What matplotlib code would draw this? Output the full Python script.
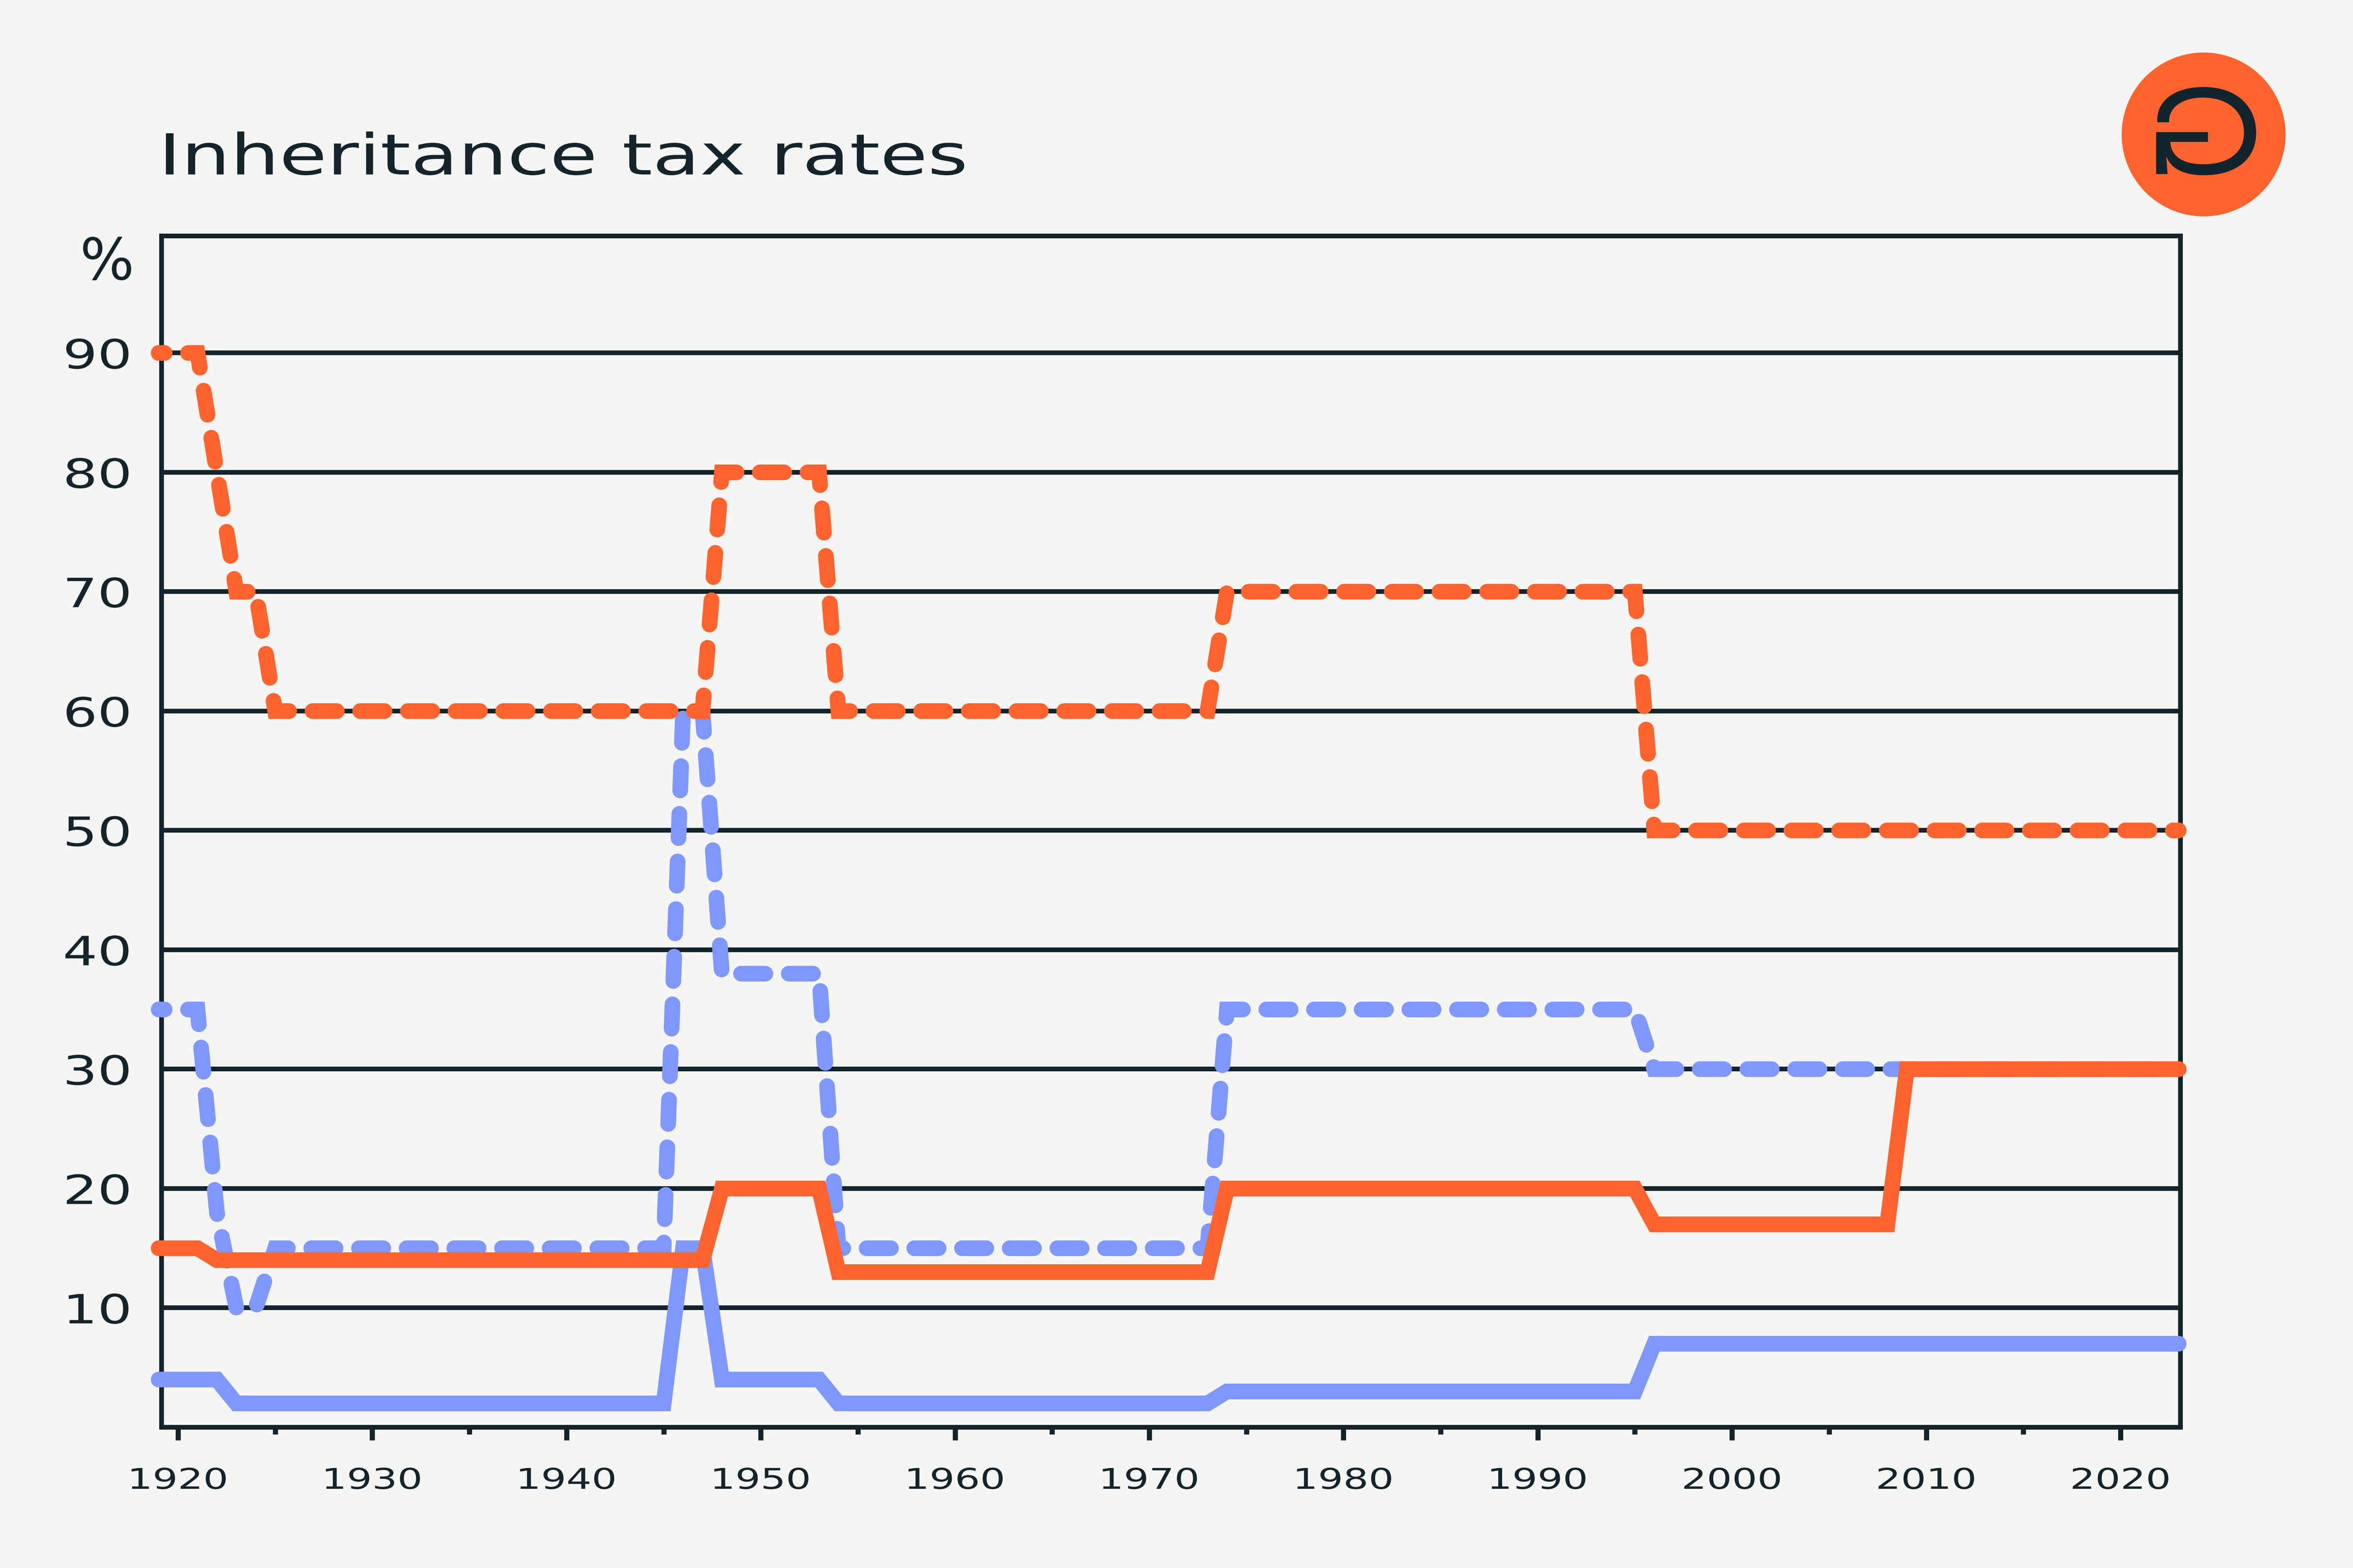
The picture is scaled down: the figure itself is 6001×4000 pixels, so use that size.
import matplotlib
matplotlib.use('Agg')
import matplotlib.pyplot as plt
from matplotlib.patches import Ellipse, PathPatch
from matplotlib.path import Path
from matplotlib.patheffects import AbstractPathEffect
from matplotlib.transforms import Affine2D

W, H = 6001, 4000
DPI = 300

BG = '#F5F5F3'
DARK = '#13242C'
ORANGE = '#FF632E'
BLUE = '#7F98FF'

years = list(range(1919, 2024))

# (first year, value) for each run, filled out year by year below
top_rate_a = [(1919, 90), (1922, 80), (1923, 70), (1925, 60), (1948, 80), (1954, 60), (1974, 70), (1996, 50)]
top_rate_b = [(1919, 35), (1922, 18), (1923, 10), (1925, 15), (1946, 60), (1948, 38), (1954, 15), (1974, 35), (1996, 30)]
low_rate_a = [(1919, 15), (1922, 14), (1948, 20), (1954, 13), (1974, 20), (1996, 17), (2009, 30)]
low_rate_b = [(1919, 4), (1923, 2), (1946, 15), (1948, 4), (1954, 2), (1974, 3), (1996, 7)]

y_ticks = [10, 20, 30, 40, 50, 60, 70, 80, 90]
x_major = [1920, 1930, 1940, 1950, 1960, 1970, 1980, 1990, 2000, 2010, 2020]
x_minor = [1925, 1935, 1945, 1955, 1965, 1975, 1985, 1995, 2005, 2015]


class Stretch(AbstractPathEffect):
    # the original face is a wide one, so widen the glyphs around an anchor
    def __init__(self, sx, anchor='left'):
        super().__init__()
        self.sx = sx
        self.anchor = anchor

    def draw_path(self, renderer, gc, tpath, affine, rgbFace=None):
        ext = tpath.get_extents()
        a = {'left': ext.x0, 'right': ext.x1, 'center': (ext.x0 + ext.x1) / 2}[self.anchor]
        t = Affine2D().translate(-a, 0).scale(self.sx, 1).translate(a, 0)
        renderer.draw_path(gc, tpath, t + affine, rgbFace)


def expand(runs):
    out = []
    for yr in years:
        val = None
        for start, v in runs:
            if yr >= start:
                val = v
        out.append(val)
    return out


def pt(px):
    return px * 72 / DPI


def fx(x):
    return x / W


def fy(y):
    return 1 - y / H


plt.rcParams['font.family'] = ['DejaVu Sans']

fig = plt.figure(figsize=(W / DPI, H / DPI), dpi=DPI, facecolor=BG)
ax = fig.add_axes([fx(412.5), fy(3641), fx(5561 - 412.5), (3641 - 602) / H], facecolor=BG)

lw = pt(40)
dash = (1.165, (1.55, 1.49))

ax.plot(years, expand(top_rate_b), color=BLUE, lw=lw, linestyle=dash, dash_capstyle='round',
        dash_joinstyle='miter', clip_on=False, zorder=3)
ax.plot(years, expand(top_rate_a), color=ORANGE, lw=lw, linestyle=dash, dash_capstyle='round',
        dash_joinstyle='miter', clip_on=False, zorder=4)
ax.plot(years, expand(low_rate_b), color=BLUE, lw=lw, solid_capstyle='round',
        solid_joinstyle='miter', clip_on=False, zorder=5)
ax.plot(years, expand(low_rate_a), color=ORANGE, lw=lw, solid_capstyle='round',
        solid_joinstyle='miter', clip_on=False, zorder=6)

ax.set_xlim(1919.16, 2023.09)
ax.set_ylim(0, 99.8)

ax.set_yticks(y_ticks)
ax.set_xticks(x_major)
ax.set_xticks(x_minor, minor=True)
ax.grid(axis='y', color=DARK, lw=pt(12), zorder=1)
ax.set_axisbelow(True)

ax.tick_params(axis='y', length=0, pad=pt(78), labelsize=24.7, labelcolor=DARK)
ax.tick_params(axis='x', which='major', length=pt(33), width=pt(13), color=DARK, pad=pt(68),
               labelsize=17.5, labelcolor=DARK)
ax.tick_params(axis='x', which='minor', length=pt(18), width=pt(13), color=DARK)
for s in ax.spines.values():
    s.set_color(DARK)
    s.set_linewidth(pt(12))

for lab in ax.get_yticklabels():
    lab.set_path_effects([Stretch(1.35, 'right')])
for lab in ax.get_xticklabels():
    lab.set_path_effects([Stretch(1.39, 'center')])

title = fig.text(fx(409), fy(445), 'Inheritance tax rates', color=DARK, fontsize=34.6, ha='left', va='baseline')
title.set_path_effects([Stretch(1.37, 'left')])
fig.text(fx(343), fy(713), '%', color=DARK, fontsize=35, ha='right', va='baseline')

# logo: orange disc with the mirrored G
fig.add_artist(Ellipse((fx(5620), fy(343)), 418 / W, 418 / H, transform=fig.transFigure,
                       facecolor=ORANGE, edgecolor='none'))

glyph = [
    (Path.MOVETO, 5502, 312),
    (Path.CURVE4, 5498, 262), (Path.CURVE4, 5540, 222), (Path.CURVE4, 5620, 222),
    (Path.CURVE4, 5708, 222), (Path.CURVE4, 5754, 274), (Path.CURVE4, 5754, 339),
    (Path.CURVE4, 5754, 402), (Path.CURVE4, 5708, 447), (Path.CURVE4, 5620, 447),
    (Path.CURVE4, 5570, 447), (Path.CURVE4, 5535, 430), (Path.CURVE4, 5525, 398),
    (Path.LINETO, 5528, 444),
    (Path.LINETO, 5499, 444),
    (Path.LINETO, 5499, 337),
    (Path.LINETO, 5631, 337),
    (Path.LINETO, 5631, 362),
    (Path.LINETO, 5535, 362),
    (Path.CURVE4, 5537, 398), (Path.CURVE4, 5565, 419), (Path.CURVE4, 5620, 419),
    (Path.CURVE4, 5685, 419), (Path.CURVE4, 5723, 388), (Path.CURVE4, 5723, 339),
    (Path.CURVE4, 5723, 288), (Path.CURVE4, 5687, 249), (Path.CURVE4, 5617, 249),
    (Path.CURVE4, 5565, 249), (Path.CURVE4, 5530, 275), (Path.CURVE4, 5532, 312),
    (Path.CLOSEPOLY, 5502, 312),
]
codes = [g[0] for g in glyph]
verts = [(fx(g[1]), fy(g[2])) for g in glyph]
fig.add_artist(PathPatch(Path(verts, codes), transform=fig.transFigure, facecolor=DARK, edgecolor='none', zorder=5))

fig.savefig('out.png', dpi=DPI, facecolor=BG)
